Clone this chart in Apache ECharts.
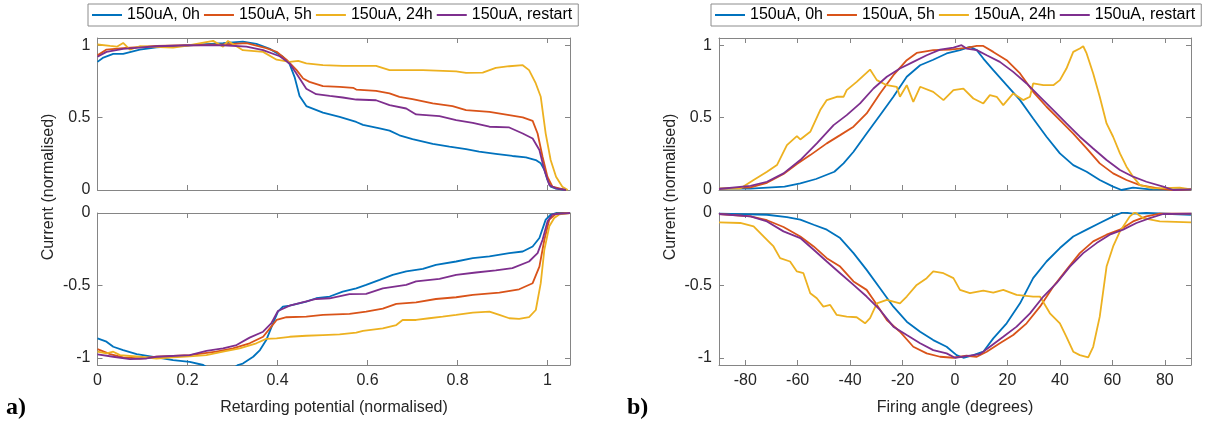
<!DOCTYPE html>
<html>
<head>
<meta charset="utf-8">
<script src="https://cdn.jsdelivr.net/npm/echarts@6/dist/echarts.min.js"></script>
<style>
html,body{margin:0;padding:0;background:#fff;}
#chart{width:1209px;height:429px;}
</style>
</head>
<body>
<div id="chart"></div>
<script>
// ---------- labels ----------
const seriesNames = ['150uA, 0h', '150uA, 5h', '150uA, 24h', '150uA, restart'];
const seriesColors = ['#0072BD', '#D95319', '#EDB120', '#7E2F8E'];
const xTicksA = [0, 0.2, 0.4, 0.6, 0.8, 1];
const xTicksB = [-80, -60, -40, -20, 0, 20, 40, 60, 80];
const yTicksTop = [0, 0.5, 1];
const yTicksBottom = [-1, -0.5, 0];
const xNameA = 'Retarding potential (normalised)';
const xNameB = 'Firing angle (degrees)';
const yName = 'Current (normalised)';

// ---------- panel a) top : retarding potential vs current ----------
const aTop0h = [[0,0.885],[0.013,0.915],[0.035,0.94],[0.057,0.94],[0.094,0.97],[0.131,0.985],[0.205,1.0],[0.279,1.015],[0.323,1.025],[0.353,1.01],[0.383,0.975],[0.412,0.92],[0.427,0.87],[0.438,0.78],[0.449,0.65],[0.464,0.58],[0.501,0.535],[0.538,0.505],[0.575,0.47],[0.59,0.45],[0.627,0.425],[0.649,0.41],[0.671,0.378],[0.70,0.352],[0.745,0.318],[0.782,0.30],[0.819,0.283],[0.848,0.265],[0.885,0.25],[0.922,0.235],[0.952,0.225],[0.974,0.207],[0.985,0.184],[0.993,0.14],[1.0,0.07],[1.007,0.023],[1.019,0.01],[1.041,0]];
const aTop5h = [[0,0.93],[0.02,0.97],[0.057,0.98],[0.131,0.995],[0.205,1.0],[0.279,1.005],[0.331,1.015],[0.375,0.98],[0.398,0.955],[0.42,0.9],[0.442,0.83],[0.457,0.77],[0.471,0.747],[0.501,0.717],[0.538,0.713],[0.568,0.706],[0.575,0.694],[0.619,0.685],[0.649,0.667],[0.671,0.644],[0.70,0.628],[0.745,0.598],[0.789,0.579],[0.819,0.552],[0.871,0.54],[0.915,0.517],[0.945,0.501],[0.967,0.478],[0.978,0.39],[0.989,0.23],[1.0,0.09],[1.011,0.023],[1.041,0]];
const aTop24h = [[0,1.005],[0.028,0.995],[0.043,0.99],[0.057,1.016],[0.072,0.97],[0.094,0.993],[0.168,0.984],[0.205,1.0],[0.257,1.03],[0.279,0.99],[0.29,1.03],[0.323,0.966],[0.368,0.954],[0.398,0.90],[0.427,0.885],[0.446,0.892],[0.464,0.874],[0.501,0.862],[0.545,0.857],[0.619,0.857],[0.649,0.828],[0.723,0.828],[0.797,0.82],[0.819,0.809],[0.856,0.811],[0.885,0.844],[0.915,0.855],[0.945,0.862],[0.959,0.828],[0.974,0.736],[0.985,0.644],[0.996,0.39],[1.007,0.207],[1.019,0.092],[1.033,0.023],[1.045,0]];
const aTopRestart = [[0,0.92],[0.02,0.954],[0.057,0.975],[0.131,0.993],[0.205,1.0],[0.279,1.0],[0.331,0.99],[0.368,0.966],[0.405,0.924],[0.427,0.874],[0.442,0.805],[0.464,0.70],[0.486,0.662],[0.516,0.65],[0.545,0.639],[0.575,0.625],[0.619,0.62],[0.649,0.586],[0.686,0.563],[0.708,0.522],[0.76,0.51],[0.797,0.483],[0.834,0.464],[0.871,0.437],[0.915,0.432],[0.945,0.39],[0.967,0.356],[0.982,0.276],[0.993,0.138],[1.004,0.034],[1.019,0.011],[1.041,0]];

// ---------- panel a) bottom ----------
const aBot0h = [[0,-0.866],[0.02,-0.889],[0.035,-0.924],[0.057,-0.947],[0.087,-0.975],[0.131,-0.998],[0.168,-1.016],[0.205,-1.028],[0.235,-1.05],[0.26,-1.1],[0.29,-1.1],[0.312,-1.05],[0.323,-1.04],[0.346,-0.993],[0.361,-0.947],[0.375,-0.878],[0.39,-0.762],[0.401,-0.681],[0.412,-0.647],[0.427,-0.64],[0.464,-0.612],[0.486,-0.589],[0.516,-0.577],[0.545,-0.543],[0.575,-0.52],[0.597,-0.497],[0.627,-0.462],[0.656,-0.427],[0.686,-0.404],[0.723,-0.386],[0.752,-0.358],[0.797,-0.335],[0.834,-0.312],[0.871,-0.30],[0.915,-0.277],[0.945,-0.266],[0.967,-0.231],[0.982,-0.173],[0.996,-0.046],[1.007,-0.012],[1.019,0],[1.05,0]];
const aBot5h = [[0,-0.94],[0.028,-0.975],[0.057,-0.998],[0.094,-1.005],[0.131,-0.993],[0.205,-0.982],[0.264,-0.958],[0.301,-0.935],[0.338,-0.90],[0.368,-0.855],[0.383,-0.797],[0.398,-0.739],[0.42,-0.72],[0.464,-0.716],[0.501,-0.704],[0.56,-0.697],[0.597,-0.681],[0.634,-0.66],[0.664,-0.628],[0.708,-0.617],[0.752,-0.594],[0.797,-0.582],[0.834,-0.566],[0.893,-0.55],[0.937,-0.527],[0.967,-0.485],[0.982,-0.37],[0.993,-0.185],[1.004,-0.046],[1.019,-0.005],[1.05,0]];
const aBot24h = [[0,-0.958],[0.02,-0.97],[0.035,-0.958],[0.05,-0.982],[0.094,-0.993],[0.131,-1.005],[0.168,-0.998],[0.205,-0.99],[0.242,-0.982],[0.279,-0.958],[0.316,-0.935],[0.353,-0.90],[0.375,-0.87],[0.398,-0.866],[0.427,-0.855],[0.464,-0.848],[0.501,-0.843],[0.538,-0.838],[0.575,-0.827],[0.59,-0.815],[0.634,-0.797],[0.664,-0.774],[0.678,-0.739],[0.708,-0.739],[0.737,-0.727],[0.767,-0.716],[0.797,-0.704],[0.834,-0.688],[0.871,-0.681],[0.893,-0.704],[0.915,-0.727],[0.937,-0.732],[0.959,-0.72],[0.974,-0.67],[0.985,-0.485],[0.993,-0.254],[1.004,-0.092],[1.015,-0.035],[1.026,-0.01],[1.05,0]];
const aBotRestart = [[0,-0.977],[0.035,-0.993],[0.072,-1.01],[0.109,-1.005],[0.131,-0.993],[0.205,-0.982],[0.242,-0.952],[0.279,-0.935],[0.309,-0.912],[0.338,-0.861],[0.368,-0.82],[0.386,-0.762],[0.401,-0.677],[0.427,-0.64],[0.486,-0.594],[0.516,-0.589],[0.56,-0.561],[0.597,-0.559],[0.634,-0.52],[0.686,-0.497],[0.708,-0.473],[0.76,-0.455],[0.797,-0.427],[0.841,-0.411],[0.885,-0.397],[0.922,-0.381],[0.959,-0.335],[0.978,-0.277],[0.989,-0.185],[1.0,-0.058],[1.011,-0.01],[1.05,0]];

// ---------- panel b) top : firing angle vs current ----------
const bTop0h = [[-90,0.01],[-78,0.01],[-65,0.023],[-59,0.046],[-53,0.076],[-46,0.126],[-42.5,0.184],[-38.7,0.264],[-33.7,0.39],[-28.6,0.517],[-23.5,0.644],[-18.4,0.782],[-13.3,0.862],[-8.3,0.90],[-3.2,0.943],[1.9,0.966],[5.7,0.989],[8.3,0.966],[10.8,0.908],[14.6,0.828],[19.7,0.724],[24.8,0.621],[29.8,0.494],[34.9,0.368],[40,0.253],[45.1,0.172],[50.2,0.126],[55.2,0.069],[60.3,0.023],[63.5,0],[67.9,0.016],[74.3,0.005],[90,0.005]];
const bTop5h = [[-90,0.01],[-78,0.018],[-71.7,0.05],[-65.4,0.11],[-60.3,0.18],[-55.2,0.241],[-48.9,0.322],[-43.8,0.379],[-38.7,0.437],[-33.7,0.529],[-28.6,0.667],[-23.5,0.793],[-18.4,0.897],[-14.6,0.947],[-8.3,0.966],[-1.9,0.97],[4.4,0.982],[8.3,0.995],[10.8,0.995],[14.6,0.954],[19.7,0.897],[24.8,0.805],[29.8,0.678],[34.9,0.575],[40,0.483],[45.1,0.39],[50.2,0.287],[55.2,0.184],[60.3,0.115],[65.4,0.069],[70.5,0.034],[78.1,0.01],[83.2,0],[90,0.005]];
const bTop24h = [[-90,0.01],[-81.9,0.01],[-76.8,0.069],[-71.7,0.126],[-67.9,0.172],[-64.1,0.31],[-60.3,0.372],[-59,0.349],[-55.2,0.402],[-51.4,0.552],[-48.9,0.621],[-45.1,0.644],[-42.5,0.644],[-41.3,0.69],[-37.5,0.747],[-32.4,0.832],[-29.8,0.759],[-26,0.724],[-22.2,0.713],[-21,0.644],[-18.4,0.724],[-15.9,0.609],[-13.3,0.713],[-8.3,0.678],[-4.4,0.621],[-0.6,0.69],[3.2,0.701],[7,0.632],[10.8,0.598],[13.3,0.655],[15.9,0.644],[18.4,0.586],[22.2,0.667],[26,0.621],[28.6,0.644],[29.8,0.736],[33.7,0.724],[37.5,0.724],[40,0.759],[42.5,0.839],[45.1,0.954],[47.6,0.977],[48.9,0.993],[50.2,0.943],[52.7,0.805],[55.2,0.644],[57.8,0.46],[60.3,0.368],[62.9,0.253],[65.4,0.161],[67.9,0.092],[70.5,0.034],[75.6,0.011],[85.7,0.016],[90,0.005]];
const bTopRestart = [[-90,0.007],[-78,0.028],[-71.7,0.057],[-65.4,0.115],[-59,0.207],[-52.7,0.322],[-46.3,0.448],[-41.3,0.517],[-36.2,0.598],[-31.1,0.701],[-26,0.782],[-21,0.839],[-15.9,0.885],[-10.8,0.931],[-5.7,0.97],[-0.6,0.984],[2.5,1.0],[4.4,0.977],[8.3,0.966],[12.1,0.931],[17.1,0.885],[22.2,0.816],[27.3,0.736],[32.4,0.644],[37.5,0.552],[42.5,0.46],[47.6,0.368],[52.7,0.287],[57.8,0.207],[62.9,0.138],[67.9,0.092],[73,0.057],[79.4,0.023],[83.2,0],[90,0.005]];

// ---------- panel b) bottom ----------
const bBot0h = [[-90,-0.005],[-71.7,-0.012],[-64.1,-0.028],[-59,-0.046],[-53.9,-0.081],[-48.9,-0.115],[-43.8,-0.173],[-38.7,-0.277],[-33.7,-0.393],[-28.6,-0.52],[-23.5,-0.647],[-18.4,-0.751],[-13.3,-0.82],[-8.3,-0.878],[-3.2,-0.924],[0.6,-0.982],[3.2,-1.0],[7,-0.982],[10.8,-0.958],[14.6,-0.866],[19.7,-0.762],[24.8,-0.624],[29.8,-0.45],[34.9,-0.335],[40,-0.242],[45.1,-0.162],[50.2,-0.115],[55.2,-0.069],[60.3,-0.023],[64.1,0.005],[67.9,-0.005],[73,0],[90,-0.012]];
const bBot5h = [[-90,-0.007],[-78,-0.023],[-71.7,-0.05],[-65.4,-0.097],[-59,-0.162],[-53.9,-0.231],[-48.9,-0.312],[-43.8,-0.37],[-38.7,-0.473],[-33.7,-0.531],[-31.1,-0.60],[-26,-0.739],[-21,-0.82],[-15.9,-0.924],[-10.8,-0.97],[-5.7,-0.993],[-0.6,-1.0],[4.4,-0.986],[8.3,-0.993],[12.1,-0.958],[17.1,-0.90],[22.2,-0.843],[27.3,-0.762],[32.4,-0.647],[37.5,-0.508],[42.5,-0.393],[47.6,-0.277],[52.7,-0.196],[57.8,-0.15],[62.9,-0.115],[67.9,-0.058],[73,-0.023],[78.1,-0.005],[90,-0.005]];
const bBot24h = [[-90,-0.065],[-81.9,-0.069],[-76.8,-0.092],[-71.7,-0.185],[-69.2,-0.231],[-66.7,-0.312],[-62.9,-0.335],[-60.3,-0.404],[-57.8,-0.416],[-55.2,-0.554],[-52.7,-0.589],[-50.2,-0.647],[-47.6,-0.635],[-45.1,-0.704],[-41.3,-0.716],[-37.5,-0.72],[-34.3,-0.762],[-32.4,-0.727],[-29.8,-0.624],[-26,-0.60],[-21,-0.624],[-18.4,-0.577],[-14.6,-0.497],[-10.8,-0.45],[-8.3,-0.404],[-4.4,-0.416],[-0.6,-0.45],[1.9,-0.531],[5.7,-0.554],[10.8,-0.536],[14.6,-0.55],[18.4,-0.531],[23.5,-0.566],[29.8,-0.577],[32.4,-0.577],[36.2,-0.693],[40,-0.762],[42.5,-0.855],[45.1,-0.958],[47.6,-0.982],[50.8,-0.998],[52.7,-0.924],[55.2,-0.716],[57.8,-0.37],[60.3,-0.231],[62.9,-0.127],[66.7,-0.023],[68.6,0.005],[71.7,-0.035],[78.1,-0.058],[90,-0.065]];
const bBotRestart = [[-90,-0.007],[-78,-0.023],[-71.7,-0.058],[-65.4,-0.127],[-59,-0.173],[-53.9,-0.254],[-48.9,-0.335],[-43.8,-0.416],[-38.7,-0.497],[-33.7,-0.577],[-28.6,-0.67],[-23.5,-0.785],[-18.4,-0.843],[-13.3,-0.90],[-8.3,-0.947],[-3.2,-0.97],[0,-1.0],[4.4,-0.988],[9.5,-0.975],[13.3,-0.924],[18.4,-0.855],[23.5,-0.785],[28.6,-0.693],[33.7,-0.577],[38.7,-0.485],[43.8,-0.37],[48.9,-0.277],[54,-0.208],[59,-0.15],[64.1,-0.115],[69.2,-0.069],[74.3,-0.035],[79.4,-0.007],[90,-0.005]];

const panels = [
  [aTop0h, aTop5h, aTop24h, aTopRestart],
  [aBot0h, aBot5h, aBot24h, aBotRestart],
  [bTop0h, bTop5h, bTop24h, bTopRestart],
  [bBot0h, bBot5h, bBot24h, bBotRestart]
];

// ---------- layout / styling ----------
const FONT = '"Liberation Sans", Arial, Helvetica, sans-serif';
const TXT = '#262626';
const FRAME = '#858585';
const grids = [
  {left: 97.5, top: 38, width: 472.5, height: 152},
  {left: 97.5, top: 213, width: 472.5, height: 152},
  {left: 719, top: 38, width: 472, height: 152},
  {left: 719, top: 213, width: 472, height: 152}
];
const xRange = [[0, 1.05], [0, 1.05], [-90, 90], [-90, 90]];
const yRange = [[0, 1.05], [-1.05, 0], [0, 1.05], [-1.05, 0]];
const xTickSet = [xTicksA, xTicksA, xTicksB, xTicksB];
const yTickSet = [yTicksTop, yTicksBottom, yTicksTop, yTicksBottom];
const showXLabel = [false, true, false, true];

function axisCommon(ticks, showLabel, margin) {
  return {
    axisLine: {show: true, onZero: false, lineStyle: {color: FRAME, width: 1}},
    axisTick: {show: true, inside: true, length: 5, customValues: ticks, lineStyle: {color: FRAME, width: 1}},
    axisLabel: {show: showLabel, customValues: ticks, margin: margin, fontSize: 16, color: TXT, fontFamily: FONT},
    splitLine: {show: false}
  };
}

const xAxes = [], yAxes = [];
for (let g = 0; g < 4; g++) {
  xAxes.push(Object.assign({type: 'value', gridIndex: g, position: 'bottom', min: xRange[g][0], max: xRange[g][1]},
    axisCommon(xTickSet[g], showXLabel[g], 8)));
  xAxes.push(Object.assign({type: 'value', gridIndex: g, position: 'top', min: xRange[g][0], max: xRange[g][1]},
    axisCommon(xTickSet[g], false, 8)));
  yAxes.push(Object.assign({type: 'value', gridIndex: g, position: 'left', min: yRange[g][0], max: yRange[g][1]},
    axisCommon(yTickSet[g], true, 7)));
  yAxes.push(Object.assign({type: 'value', gridIndex: g, position: 'right', min: yRange[g][0], max: yRange[g][1]},
    axisCommon(yTickSet[g], false, 7)));
}

const series = [];
for (let g = 0; g < 4; g++) {
  for (let s = 0; s < 4; s++) {
    series.push({
      type: 'line', name: seriesNames[s], xAxisIndex: g * 2, yAxisIndex: g * 2,
      data: panels[g][s], symbol: 'none', showSymbol: false, clip: true,
      lineStyle: {width: 1.8, color: seriesColors[s]}, itemStyle: {color: seriesColors[s]},
      z: 2 + s
    });
  }
}

function legendAt(left) {
  return {
    data: seriesNames, left: left, top: 4, orient: 'horizontal',
    icon: 'rect', itemWidth: 30, itemHeight: 2, itemGap: 4,
    padding: [3, 6, 3, 4], borderColor: '#8c8c8c', borderWidth: 1, backgroundColor: '#fff',
    textStyle: {fontSize: 16, color: '#000', fontFamily: FONT, lineHeight: 16}
  };
}

const graphic = [
  {type: 'text', x: 49, y: 187, rotation: Math.PI / 2,
   style: {text: yName, fontSize: 16, fontFamily: FONT, fill: TXT, align: 'center', verticalAlign: 'middle'}},
  {type: 'text', x: 671, y: 187, rotation: Math.PI / 2,
   style: {text: yName, fontSize: 16, fontFamily: FONT, fill: TXT, align: 'center', verticalAlign: 'middle'}},
  {type: 'text', x: 334, y: 408,
   style: {text: xNameA, fontSize: 16, fontFamily: FONT, fill: TXT, align: 'center', verticalAlign: 'middle'}},
  {type: 'text', x: 955, y: 408,
   style: {text: xNameB, fontSize: 16, fontFamily: FONT, fill: TXT, align: 'center', verticalAlign: 'middle'}},
  {type: 'text', x: 6, y: 408,
   style: {text: 'a)', fontSize: 24, fontWeight: 'bold', fontFamily: '"Liberation Serif", "Times New Roman", serif', fill: '#000', align: 'left', verticalAlign: 'middle'}},
  {type: 'text', x: 627, y: 408,
   style: {text: 'b)', fontSize: 24, fontWeight: 'bold', fontFamily: '"Liberation Serif", "Times New Roman", serif', fill: '#000', align: 'left', verticalAlign: 'middle'}}
];

const chart = echarts.init(document.getElementById('chart'), null, {renderer: 'canvas'});
chart.setOption({
  animation: false,
  backgroundColor: '#ffffff',
  grid: grids,
  xAxis: xAxes,
  yAxis: yAxes,
  legend: [legendAt(88), legendAt(711)],
  series: series,
  graphic: graphic
});
</script>
</body>
</html>
